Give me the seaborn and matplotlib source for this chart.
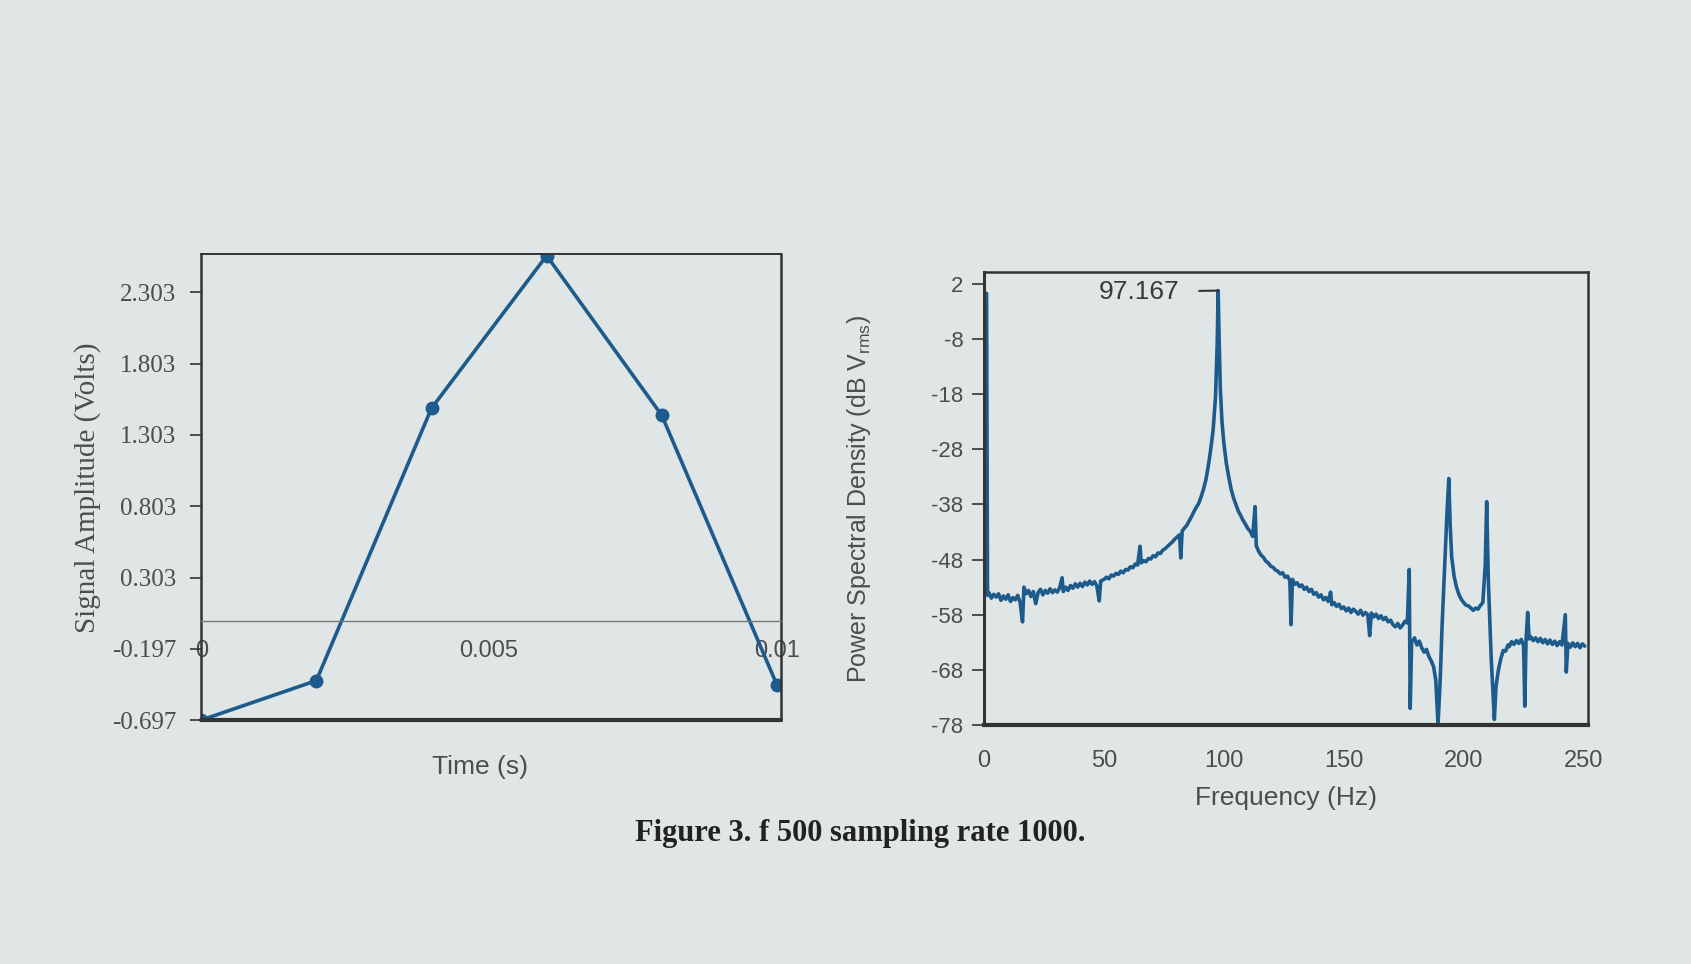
import matplotlib
matplotlib.use('Agg')
import matplotlib.pyplot as plt
import numpy as np
import pandas as pd
import seaborn as sns

# left panel: time signal
TIME_S = [0.0, 0.002, 0.004, 0.006, 0.008, 0.010]
AMPLITUDE_V = [-0.697, -0.42, 1.49, 2.56, 1.44, -0.45]
AMP_TICKS = [-0.697, -0.197, 0.303, 0.803, 1.303, 1.803, 2.303]
TIME_TICKS = [0, 0.005, 0.01]
TIME_TICK_LABELS = ['0', '0.005', '0.01']

# right panel: power spectral density
FREQ_HZ = [
    1.0, 1.4, 2, 3, 4, 5, 6, 7, 8, 9,
    10, 11, 12, 13, 14, 15, 16, 16.6, 17.5, 18.5,
    19.5, 20.5, 21.5, 22.5, 23.5, 24.5, 25.5, 26.5, 27.5, 28.5,
    29.5, 30.5, 31.5, 32.5, 33.0, 34, 35, 36, 37, 38,
    39, 40, 41, 42, 43, 44, 45, 46, 47, 48,
    48.6, 50, 51, 52, 53, 54, 55, 56, 57, 58,
    59, 60, 61, 62, 63, 64, 65, 65.5, 66.5, 67.5,
    68.5, 69.5, 70.5, 71.5, 72.5, 73.5, 74.5, 75.5, 76.5, 77.5,
    78.5, 79.5, 80.5, 81.5, 82, 82.6, 83.5, 84.5, 85.5, 86.5,
    87.5, 88.5, 89.5, 90.5, 91.5, 92.5, 93.5, 94.5, 95.5, 96.5,
    97.2, 97.6, 98.0, 98.5, 99.2, 100, 101, 102, 103, 104,
    105, 106, 107, 108, 109, 110, 111, 112, 113, 113.5,
    114.5, 115.5, 116.5, 117.5, 118.5, 119.5, 120.5, 121.5, 122.5, 123.5,
    124.5, 125.5, 126.5, 127.5, 128, 128.6, 129.5, 130.5, 131.5, 132.5,
    133.5, 134.5, 135.5, 136.5, 137.5, 138.5, 139.5, 140.5, 141.5, 142.5,
    143.5, 144.5, 145.0, 146, 147, 148, 149, 150, 151, 152,
    153, 154, 155, 156, 157, 158, 159, 160, 160.8, 161.5,
    162.5, 163.5, 164.5, 165.5, 166.5, 167.5, 168.5, 169.5, 170.5, 171.5,
    172.5, 173.5, 174.5, 175.5, 176.5, 177.3, 177.7, 178.3, 179.5, 180.5,
    181.5, 182.5, 183.5, 184.5, 185.5, 186.5, 187.5, 188.4, 189.3, 190.2,
    191, 192, 193, 193.8, 194.4, 195, 196, 197, 198, 199,
    200, 201, 202, 203, 204, 205, 206, 207, 208, 209,
    209.6, 210.3, 211.5, 212.8, 213.5, 214.5, 215.5, 216.5, 217.5, 218.5,
    219, 220, 221, 222, 223, 224, 225, 225.5, 226, 226.7,
    227.3, 228, 229, 230, 231, 232, 233, 234, 235, 236,
    237, 238, 239, 240, 241, 242.4, 242.8, 243.5, 244.5, 245.5,
    246.5, 247.5, 248.5, 249.5, 250.5,
]
PSD_DB = [
    0.3, -54.5, -54.0, -55.0, -54.3, -54.8, -54.2, -55.4, -54.6, -55.2,
    -54.4, -55.6, -54.9, -55.3, -54.5, -55.8, -59.3, -53.0, -54.2, -53.6,
    -54.7, -53.8, -56.0, -54.0, -53.4, -54.4, -53.6, -54.1, -53.3, -54.0,
    -53.5, -53.9, -53.1, -51.3, -53.8, -53.0, -53.6, -52.7, -53.2, -52.4,
    -53.0, -52.3, -52.9, -52.1, -52.6, -51.9, -52.5, -52.0, -52.8, -55.5,
    -51.9, -51.6, -51.2, -51.5, -50.8, -51.0, -50.5, -50.7, -50.1, -50.4,
    -49.8, -49.9, -49.3, -49.5, -48.8, -49.0, -45.6, -48.6, -48.2, -48.4,
    -47.8, -47.9, -47.3, -47.5, -46.8, -46.9, -46.3, -46.0, -45.6, -45.2,
    -44.8, -44.3, -43.9, -43.5, -47.7, -42.8, -42.3, -41.8, -41.0, -40.2,
    -39.3, -38.5, -37.8, -36.6, -35.2, -33.5, -31.0, -28.0, -24.5, -18.5,
    -9.0, 0.8, -8.0, -17.0, -23.0, -27.0, -30.5, -33.0, -35.2, -36.8,
    -38.0, -39.2, -40.0, -40.9, -41.6, -42.4, -42.9, -43.8, -38.4, -45.5,
    -46.5, -47.2, -47.6, -48.3, -48.6, -49.2, -49.4, -49.9, -50.1, -50.6,
    -50.4, -51.2, -51.0, -51.8, -59.8, -51.6, -52.5, -52.2, -52.9, -52.6,
    -53.4, -53.0, -53.8, -53.4, -54.3, -54.0, -54.8, -54.4, -55.3, -54.9,
    -55.6, -53.9, -56.2, -55.8, -56.5, -56.1, -56.9, -56.6, -57.3, -56.8,
    -57.6, -57.0, -57.4, -57.9, -57.2, -58.1, -57.6, -58.0, -61.8, -57.7,
    -58.4, -57.9, -58.7, -58.2, -58.9, -58.5, -59.3, -59.0, -59.8, -60.2,
    -59.6, -60.4, -59.9, -59.2, -59.5, -49.8, -75.0, -63.0, -62.2, -63.5,
    -62.8, -64.0, -64.8, -64.3, -65.6, -66.4, -67.5, -70.0, -78.0, -70.0,
    -60.0, -50.0, -40.0, -33.3, -42.0, -47.5, -51.0, -53.0, -54.3, -55.2,
    -55.8, -56.3, -56.4, -56.8, -57.2, -56.8, -57.0, -56.3, -55.8, -49.0,
    -37.5, -52.0, -66.0, -77.0, -71.0, -68.0, -66.0, -64.5, -64.6, -63.5,
    -63.8, -62.9, -63.4, -62.7, -63.2, -62.5, -63.6, -74.6, -62.8, -57.6,
    -62.4, -62.0, -62.7, -62.2, -62.9, -62.3, -63.1, -62.5, -63.3, -62.6,
    -63.4, -62.8, -63.6, -62.9, -63.5, -58.0, -68.4, -63.2, -63.9, -63.1,
    -63.8, -63.2, -64.0, -63.3, -63.7,
]
PSD_TICKS = [2, -8, -18, -28, -38, -48, -58, -68, -78]
FREQ_TICKS = [0, 50, 100, 150, 200, 250]
PEAK_LABEL = '97.167'

BG = '#dfe6e5'
BLUE = '#1d5b8c'
INK = '#333333'
GREY_TXT = '#4d4d4d'

sns.set_theme(style='white', rc={'axes.facecolor': BG, 'figure.facecolor': BG})
plt.rcParams['font.family'] = ['Liberation Sans', 'DejaVu Sans']
plt.rcParams['mathtext.default'] = 'regular'

sig = pd.DataFrame({'t': TIME_S, 'v': AMPLITUDE_V})
psd = pd.DataFrame({'f': FREQ_HZ, 'db': PSD_DB})

fig = plt.figure(figsize=(16.91, 9.64), dpi=100)
ax1 = fig.add_axes([0.119, 0.253, 0.343, 0.483])
ax2 = fig.add_axes([0.582, 0.248, 0.357, 0.470])

# ---- time signal
sns.lineplot(data=sig, x='t', y='v', ax=ax1, color=BLUE, lw=2.6,
             marker='o', markersize=10, markeredgewidth=0, estimator=None)
ax1.set_xlim(0, 0.010075)
ax1.set_ylim(-0.697, 2.568)
# x axis sits on the zero line (set before the ticks, it resets them)
ax1.spines['bottom'].set_position(('data', 0))
ax1.spines['bottom'].set_color('#777777')
ax1.spines['bottom'].set_linewidth(1.0)
ax1.set_yticks(AMP_TICKS)
ax1.set_yticklabels([f'{v:.3f}' for v in AMP_TICKS], family='Liberation Serif',
                    fontsize=18, color=GREY_TXT)
ax1.set_xticks(TIME_TICKS)
ax1.set_xticklabels(TIME_TICK_LABELS, fontsize=17, color=GREY_TXT)
ax1.tick_params(axis='y', left=True, length=8, width=1.2, color=INK, pad=10)
ax1.tick_params(axis='x', bottom=False, length=0, pad=14)
for s, w in [('top', 1.4), ('left', 1.8), ('right', 1.8)]:
    ax1.spines[s].set_color(INK)
    ax1.spines[s].set_linewidth(w)
ax1.plot([0, 1], [0, 0], transform=ax1.transAxes, color=INK, lw=3, clip_on=False)
ax1.set_ylabel('Signal Amplitude (Volts)', family='Liberation Serif',
               fontsize=21, color=GREY_TXT, labelpad=8)
ax1.set_xlabel('Time (s)', fontsize=19, color=GREY_TXT)
ax1.xaxis.set_label_coords(0.48, -0.075)

# ---- spectrum
sns.lineplot(data=psd, x='f', y='db', ax=ax2, color=BLUE, lw=2.6,
             sort=False, estimator=None)
ax2.set_xlim(0, 251.8)
ax2.set_ylim(-78, 4.2)
ax2.set_yticks(PSD_TICKS)
ax2.set_yticklabels([str(v) for v in PSD_TICKS], fontsize=16, color=GREY_TXT)
ax2.set_xticks(FREQ_TICKS)
ax2.set_xticklabels([str(v) for v in FREQ_TICKS], fontsize=17, color=GREY_TXT)
ax2.tick_params(axis='y', left=True, length=9, width=1.2, color=INK, pad=6)
ax2.tick_params(axis='x', bottom=False, length=0, pad=18)
for s, w in [('top', 1.8), ('right', 1.8), ('left', 2.2), ('bottom', 3.0)]:
    ax2.spines[s].set_color(INK)
    ax2.spines[s].set_linewidth(w)
ax2.set_ylabel('Power Spectral Density (dB V$_{rms}$)', fontsize=18,
               color=GREY_TXT, labelpad=42)
ax2.set_xlabel('Frequency (Hz)', fontsize=19, color=GREY_TXT, labelpad=10)

ipk = int(np.argmax(PSD_DB[1:])) + 1
ax2.annotate(PEAK_LABEL, xy=(FREQ_HZ[ipk], PSD_DB[ipk]), xytext=(-28, -1),
             textcoords='offset points', ha='right', va='center', fontsize=19,
             color='#3a3a3a',
             arrowprops=dict(arrowstyle='-', color=INK, lw=1.5, shrinkA=12, shrinkB=0))

fig.text(0.509, 0.135, 'Figure 3. f 500 sampling rate 1000.', ha='center', va='center',
         family='Liberation Serif', fontweight='bold', fontsize=22, color='#222222')

fig.savefig('out.png', dpi=100, facecolor=BG)
